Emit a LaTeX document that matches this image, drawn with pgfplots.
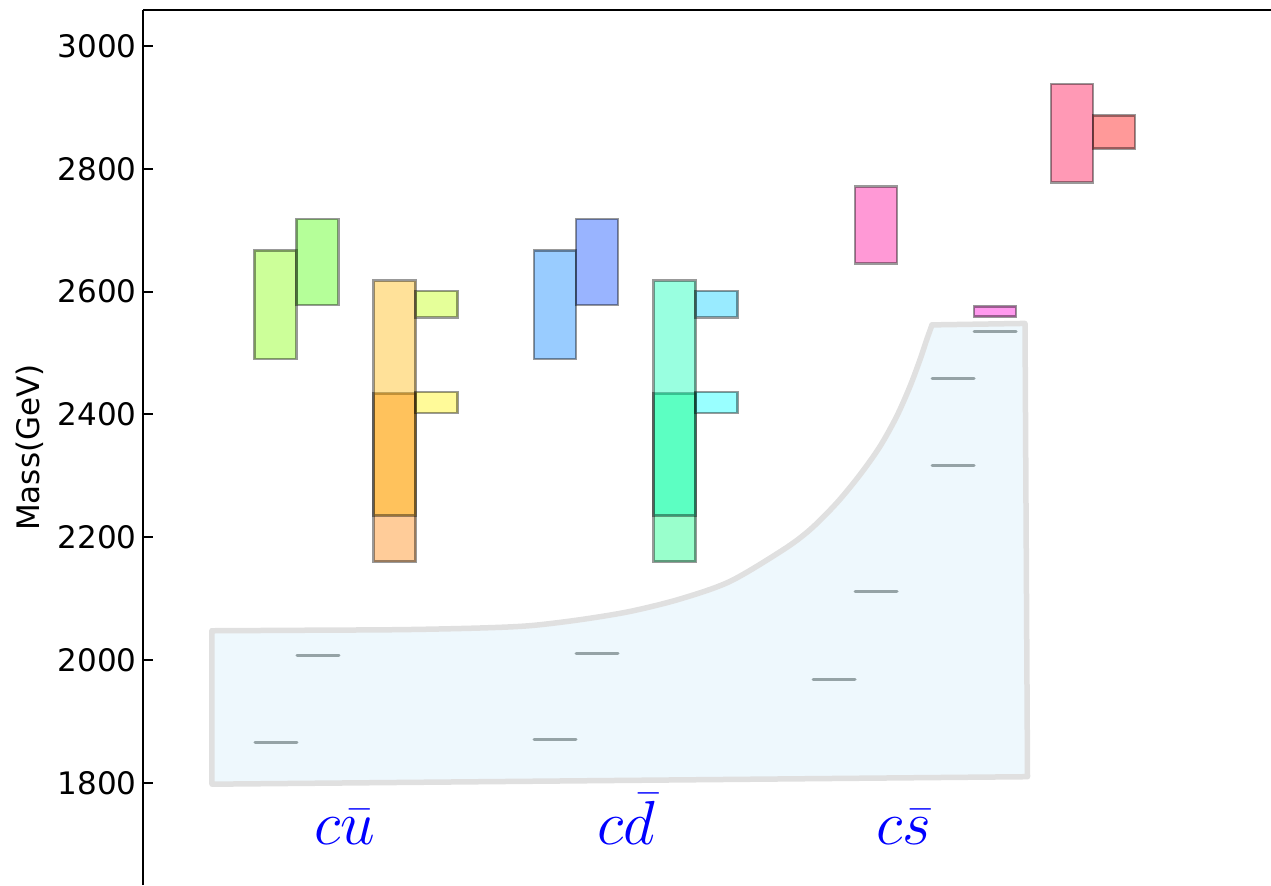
\documentclass[border=0pt]{standalone}
\usepackage{fontspec}
\setmainfont{DejaVu Sans}
\usepackage{pgfplots}
\pgfplotsset{compat=1.18}

\definecolor{regfill}{RGB}{238,248,253}
\definecolor{regedge}{RGB}{224,224,224}
\definecolor{stline}{RGB}{149,163,166}
\definecolor{cA}{RGB}{127,255,0}
\definecolor{cB}{RGB}{70,255,0}
\definecolor{cC}{RGB}{255,128,0}
\definecolor{cD}{RGB}{255,180,0}
\definecolor{cE}{RGB}{190,255,0}
\definecolor{cF}{RGB}{255,242,0}
\definecolor{dA}{RGB}{0,128,255}
\definecolor{dB}{RGB}{0,68,255}
\definecolor{dC}{RGB}{0,255,128}
\definecolor{dD}{RGB}{0,255,178}
\definecolor{dE}{RGB}{0,205,255}
\definecolor{dF}{RGB}{0,255,255}
\definecolor{sA}{RGB}{255,0,153}
\definecolor{sB}{RGB}{255,0,212}
\definecolor{sC}{RGB}{255,0,70}
\definecolor{sD}{RGB}{255,0,0}

% rectangle: x0, x1, ymin, ymax, colour
\newcommand{\rect}[5]{\addplot[fill=#5, fill opacity=0.4, draw=black, draw opacity=0.4, line width=1pt]
  coordinates {(#1,#3) (#2,#3) (#2,#4) (#1,#4)} -- cycle;}
% state line: x0, x1, mass
\newcommand{\stl}[3]{\addplot[stline, line width=1.2pt, line cap=round]
  coordinates {(#1,#3) (#2,#3)};}

\begin{document}
\begin{tikzpicture}
\useasboundingbox (-57.2pt,0) rectangle (451.2pt,354pt);
\begin{axis}[
  scale only axis, width=451.2pt, height=350pt,
  xmin=143, xmax=1271, ymin=1633.4, ymax=3058.6,
  axis x line*=top, axis y line*=left,
  xtick=\empty,
  ytick={1800,2000,2200,2400,2600,2800,3000},
  tick align=inside, major tick length=4pt,
  every tick/.style={black, line width=0.8pt},
  axis line style={black, line width=1pt},
  /pgf/number format/assume math mode=true,
  /pgf/number format/set thousands separator={},
  yticklabel style={font=\fontsize{12.4}{15}\selectfont, inner sep=0pt, xshift=-2.4pt},
  every axis y label/.style={at={(axis description cs:0,0.5)}, xshift=-45.2pt, rotate=90, anchor=center, font=\fontsize{12.4}{15}\selectfont},
  ylabel={Mass(GeV)},
  clip=false,
]
% shaded region: fill
\addplot[fill=regfill, draw=none]
  coordinates {(212,2047.5) (300,2048.3) (400,2049.3) (480,2052.0) (530,2055.8)
   (580,2065.5) (630,2079.0) (680,2099.2) (730,2127.9) (783.3,2179.6) (810,2212.1)
   (836.7,2255.6) (860,2301.7) (880,2347.8) (896.7,2396.7) (910,2445.6)
   (920,2489.1) (926.7,2521.6) (932,2545.7) (1025,2548.1)
   (1027.5,1809.8) (212,1797.6)} -- cycle;
% shaded region: curved edge
\addplot[regedge, line width=2.2pt, line cap=round, smooth, tension=0.5]
  coordinates {(212,2047.5) (300,2048.3) (400,2049.3) (480,2052.0) (530,2055.8)
   (580,2065.5) (630,2079.0) (680,2099.2) (730,2127.9) (783.3,2179.6) (810,2212.1)
   (836.7,2255.6) (860,2301.7) (880,2347.8) (896.7,2396.7) (910,2445.6)
   (920,2489.1) (926.7,2521.6) (932,2545.7)};
% shaded region: straight edges
\addplot[regedge, line width=2.2pt, line join=round, line cap=round]
  coordinates {(932,2545.7) (1025,2548.1) (1027.5,1809.8) (212,1797.6) (212,2047.5)};
% observed states
\stl{255}{297}{1865}
\stl{297}{339}{2007}
\stl{534}{576}{1870}
\stl{576}{618}{2010}
\stl{813}{855}{1968}
\stl{855}{897}{2112}
\stl{932}{974}{2317}
\stl{932}{974}{2459}
\stl{974}{1016}{2535}
% c ubar
\rect{254.5}{296.5}{2490}{2667}{cA}
\rect{296.5}{338.5}{2578}{2718}{cB}
\rect{373.5}{415.5}{2160}{2434}{cC}
\rect{373.5}{415.5}{2235}{2618}{cD}
\rect{415.5}{457.5}{2558}{2601}{cE}
\rect{415.5}{457.5}{2402}{2436}{cF}
% c dbar
\rect{534}{576}{2490}{2667}{dA}
\rect{576}{618}{2578}{2718}{dB}
\rect{653.5}{695.5}{2160}{2434}{dC}
\rect{653.5}{695.5}{2235}{2618}{dD}
\rect{695.5}{737.5}{2558}{2601}{dE}
\rect{695.5}{737.5}{2402}{2436}{dF}
% c sbar
\rect{855}{897}{2646}{2771}{sA}
\rect{974}{1016}{2559}{2576}{sB}
\rect{1051}{1093}{2778}{2938}{sC}
\rect{1093}{1135}{2833}{2887}{sD}
% labels
\node[anchor=base, text=blue, font=\fontsize{23.5}{28}\selectfont] at (axis cs:345,1699) {$c\bar{u}$};
\node[anchor=base, text=blue, font=\fontsize{23.5}{28}\selectfont] at (axis cs:626,1699) {$c\bar{d}$};
\node[anchor=base, text=blue, font=\fontsize{23.5}{28}\selectfont] at (axis cs:904,1699) {$c\bar{s}$};
\end{axis}
\end{tikzpicture}
\end{document}
